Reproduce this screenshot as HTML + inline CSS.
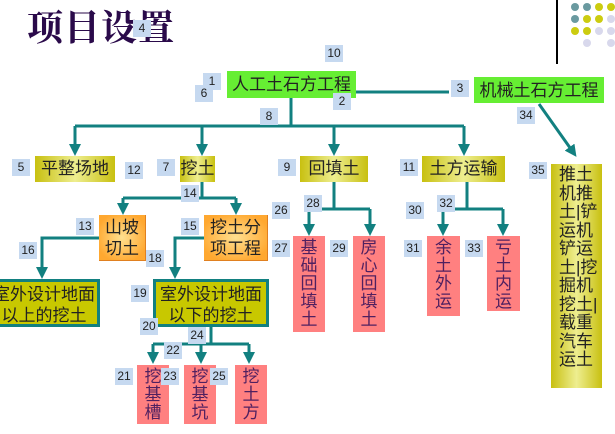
<!DOCTYPE html>
<html><head><meta charset="utf-8"><style>
body{margin:0;width:615px;height:434px;background:#fff;position:relative;overflow:hidden;font-family:"Liberation Sans","Noto Sans CJK SC",sans-serif;}
.a{position:absolute;box-sizing:border-box;}
.n{position:absolute;background:#c6d9f0;font-size:12px;width:18px;height:17px;line-height:17px;text-align:center;color:#222;}
.g{background:#66ee33;font-size:17px;line-height:27px;text-align:center;color:#222;}
.y{background:linear-gradient(90deg,#c8c010,#eeee90 50%,#c8c010);font-size:17px;line-height:26px;text-align:center;color:#222;}
.o{background:radial-gradient(ellipse at center,#ffe090,#ffa830 80%);font-size:17px;line-height:21px;text-align:center;color:#222;padding-top:2px;border-right:1px solid #e08020;border-bottom:1px solid #e08020;}
.p{background:#ff8080;font-size:17px;line-height:18px;text-align:center;color:#502060;padding-top:3px;}
.b{background:#c8c800;border:3px solid #128080;font-size:17px;line-height:21px;text-align:center;color:#222;padding-top:2px;}
</style></head><body>
<div class="a" style="left:27px;top:0px;font-family:'Liberation Serif','Noto Serif CJK SC',serif;font-size:36px;color:#2a0a4a;font-weight:bold;letter-spacing:1px">项目设置</div>
<div class="a" style="left:556px;top:0;width:2px;height:64px;background:#000"></div>
<svg class="a" style="left:0;top:0" width="615" height="434">
<g fill="#6a9aa0"><circle cx="575" cy="7" r="4"/><circle cx="587" cy="7" r="4"/><circle cx="575" cy="19" r="4"/></g>
<g fill="#cccc10"><circle cx="599" cy="7" r="4"/><circle cx="611" cy="7" r="4"/><circle cx="587" cy="19" r="4"/><circle cx="599" cy="19" r="4"/><circle cx="575" cy="31" r="4"/><circle cx="587" cy="31" r="4"/></g>
<g fill="#d8d8ec"><circle cx="611" cy="19" r="4"/><circle cx="599" cy="31" r="4"/><circle cx="611" cy="31" r="4"/><circle cx="587" cy="43" r="4"/><circle cx="611" cy="43" r="4"/></g>
<defs><marker id="m" markerWidth="4" markerHeight="4" refX="2" refY="2" orient="auto" markerUnits="strokeWidth"><path d="M0,0L4,2L0,4z" fill="#128080"/></marker></defs>
<g stroke="#128080" stroke-width="3" fill="none">
<path d="M356 92H449"/>
<path d="M291 98V126M75 126H464"/>
<path d="M75 126V150" marker-end="url(#m)"/><path d="M202 126V150" marker-end="url(#m)"/><path d="M334 126V150" marker-end="url(#m)"/><path d="M464 126V150" marker-end="url(#m)"/>
<path d="M539 104L573 152" marker-end="url(#m)"/>
<path d="M202 182V198M123 198H236"/>
<path d="M123 198V209" marker-end="url(#m)"/><path d="M236 198V209" marker-end="url(#m)"/>
<path d="M99 238H42V273" marker-end="url(#m)"/>
<path d="M204 238H175V273" marker-end="url(#m)"/>
<path d="M211 327V344M153 344H249"/>
<path d="M153 344V358" marker-end="url(#m)"/><path d="M201 344V358" marker-end="url(#m)"/><path d="M249 344V358" marker-end="url(#m)"/>
<path d="M334 182V209M309 209H370"/>
<path d="M309 209V230" marker-end="url(#m)"/><path d="M370 209V230" marker-end="url(#m)"/>
<path d="M467 182V209M443 209H503"/>
<path d="M443 209V230" marker-end="url(#m)"/><path d="M503 209V230" marker-end="url(#m)"/>
</g></svg>
<div class="a g" style="left:227px;top:71px;width:129px;height:27px">人工土石方工程</div>
<div class="a g" style="left:474px;top:77px;width:130px;height:26px">机械土石方工程</div>
<div class="a y" style="left:35px;top:156px;width:80px;height:26px">平整场地</div>
<div class="a y" style="left:180px;top:156px;width:35px;height:26px">挖土</div>
<div class="a y" style="left:300px;top:156px;width:68px;height:26px">回填土</div>
<div class="a y" style="left:422px;top:156px;width:83px;height:26px">土方运输</div>
<div class="a y" style="left:551px;top:164px;width:51px;height:224px;line-height:18.5px;padding-top:2px;text-align:left;padding-left:8px">推土<br>机推<br>土|铲<br>运机<br>铲运<br>土|挖<br>掘机<br>挖土|<br>载重<br>汽车<br>运土</div>
<div class="a o" style="left:99px;top:215px;width:47px;height:46px">山坡<br>切土</div>
<div class="a o" style="left:204px;top:215px;width:64px;height:46px">挖土分<br>项工程</div>
<div class="a b" style="left:-12px;top:279px;width:112px;height:48px">室外设计地面<br>以上的挖土</div>
<div class="a b" style="left:153px;top:279px;width:116px;height:48px">室外设计地面<br>以下的挖土</div>
<div class="a p" style="left:137px;top:365px;width:32px;height:59px">挖<br>基<br>槽</div>
<div class="a p" style="left:184px;top:365px;width:32px;height:59px">挖<br>基<br>坑</div>
<div class="a p" style="left:235px;top:365px;width:32px;height:59px">挖<br>土<br>方</div>
<div class="a p" style="left:293px;top:236px;width:32px;height:96px">基<br>础<br>回<br>填<br>土</div>
<div class="a p" style="left:353px;top:236px;width:32px;height:96px">房<br>心<br>回<br>填<br>土</div>
<div class="a p" style="left:427px;top:236px;width:33px;height:80px">余<br>土<br>外<br>运</div>
<div class="a p" style="left:487px;top:236px;width:33px;height:75px">亏<br>土<br>内<br>运</div>
<div class="n" style="left:133px;top:20px">4</div>
<div class="n" style="left:203px;top:73px">1</div>
<div class="n" style="left:195px;top:85px">6</div>
<div class="n" style="left:325px;top:45px">10</div>
<div class="n" style="left:333px;top:93px">2</div>
<div class="n" style="left:451px;top:80px">3</div>
<div class="n" style="left:260px;top:108px">8</div>
<div class="n" style="left:517px;top:107px">34</div>
<div class="n" style="left:12px;top:159px">5</div>
<div class="n" style="left:125px;top:162px">12</div>
<div class="n" style="left:157px;top:159px">7</div>
<div class="n" style="left:278px;top:159px">9</div>
<div class="n" style="left:400px;top:159px">11</div>
<div class="n" style="left:529px;top:162px">35</div>
<div class="n" style="left:181px;top:185px">14</div>
<div class="n" style="left:272px;top:202px">26</div>
<div class="n" style="left:304px;top:195px">28</div>
<div class="n" style="left:406px;top:202px">30</div>
<div class="n" style="left:437px;top:195px">32</div>
<div class="n" style="left:76px;top:218px">13</div>
<div class="n" style="left:181px;top:218px">15</div>
<div class="n" style="left:19px;top:242px">16</div>
<div class="n" style="left:146px;top:250px">18</div>
<div class="n" style="left:272px;top:240px">27</div>
<div class="n" style="left:330px;top:240px">29</div>
<div class="n" style="left:404px;top:240px">31</div>
<div class="n" style="left:465px;top:240px">33</div>
<div class="n" style="left:131px;top:285px">19</div>
<div class="n" style="left:140px;top:318px">20</div>
<div class="n" style="left:188px;top:327px">24</div>
<div class="n" style="left:164px;top:342px">22</div>
<div class="n" style="left:115px;top:368px">21</div>
<div class="n" style="left:161px;top:368px">23</div>
<div class="n" style="left:210px;top:368px">25</div>
</body></html>
